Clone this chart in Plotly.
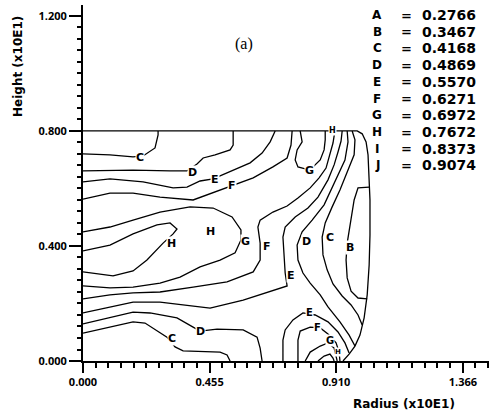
import plotly.graph_objects as go

# ---- axis ticks ----
x_tickvals = [0.0, 0.455, 0.910, 1.366]
x_ticktext = ["0.000", "0.455", "0.910", "1.366"]
y_tickvals = [0.0, 0.4, 0.8, 1.2]
y_ticktext = ["0.000", "0.400", "0.800", "1.200"]
x_minor_step = 0.0455
y_minor_step = 0.04

# ---- contour level key ----
level_letters = ["A", "B", "C", "D", "E", "F", "G", "H", "I", "J"]
level_values = ["0.2766", "0.3467", "0.4168", "0.4869", "0.5570",
                "0.6271", "0.6972", "0.7672", "0.8373", "0.9074"]

# ---- contour lines (Radius, Height in x10E1) ----
boundary_r = [0, 0.986, 1.004, 1.018, 1.025, 1.029, 1.032, 1.032, 1.029, 1.022, 1.011, 0.996, 0.978, 0.957, 0.935]
boundary_z = [0.800, 0.800, 0.790, 0.762, 0.717, 0.647, 0.560, 0.438, 0.334, 0.230, 0.150, 0.090, 0.052, 0.024, 0]

c_top_r = [0, 0.097, 0.180, 0.216, 0.259, 0.270, 0.270]
c_top_z = [0.720, 0.717, 0.710, 0.713, 0.741, 0.786, 0.800]

d_top_r = [0, 0.180, 0.313, 0.374, 0.410, 0.432, 0.475, 0.529, 0.540, 0.540]
d_top_z = [0.661, 0.664, 0.661, 0.661, 0.685, 0.706, 0.717, 0.734, 0.751, 0.800]

e_top_r = [0, 0.097, 0.216, 0.324, 0.374, 0.421, 0.468, 0.540, 0.601, 0.644, 0.673, 0.691]
e_top_z = [0.623, 0.633, 0.623, 0.602, 0.605, 0.626, 0.633, 0.664, 0.689, 0.723, 0.762, 0.800]

f_top_r = [0, 0.097, 0.180, 0.277, 0.396, 0.475, 0.529, 0.612, 0.683, 0.734, 0.748, 0.752]
f_top_z = [0.563, 0.584, 0.584, 0.570, 0.560, 0.588, 0.609, 0.637, 0.675, 0.706, 0.751, 0.800]

g_loop_r = [0, 0.097, 0.180, 0.277, 0.385, 0.468, 0.536, 0.568, 0.568, 0.547, 0.493, 0.421, 0.349, 0.277, 0.180, 0.097, 0]
g_loop_z = [0.449, 0.466, 0.490, 0.518, 0.536, 0.532, 0.501, 0.456, 0.421, 0.376, 0.351, 0.327, 0.292, 0.271, 0.257, 0.254, 0.261]

h_loop_r = [0, 0.097, 0.180, 0.266, 0.313, 0.338, 0.324, 0.288, 0.230, 0.180, 0.108, 0]
h_loop_z = [0.383, 0.403, 0.442, 0.473, 0.480, 0.459, 0.442, 0.410, 0.351, 0.313, 0.296, 0.310]

g_cap_r = [0.781, 0.788, 0.770, 0.763, 0.773, 0.799, 0.827, 0.853, 0.867, 0.871, 0.871]
g_cap_z = [0.800, 0.762, 0.734, 0.699, 0.675, 0.668, 0.675, 0.699, 0.734, 0.769, 0.800]

f_mid_r = [0, 0.097, 0.180, 0.277, 0.396, 0.518, 0.612, 0.637, 0.637, 0.629, 0.637, 0.683, 0.734, 0.773, 0.817, 0.849, 0.874, 0.888, 0.899, 0.906]
f_mid_z = [0.216, 0.230, 0.237, 0.240, 0.257, 0.275, 0.310, 0.351, 0.410, 0.466, 0.490, 0.518, 0.539, 0.567, 0.602, 0.637, 0.671, 0.717, 0.758, 0.800]

e_mid_r = [0, 0.097, 0.180, 0.277, 0.367, 0.457, 0.576, 0.655, 0.734, 0.727, 0.723, 0.719, 0.727, 0.763, 0.809, 0.845, 0.881, 0.903, 0.917, 0.928, 0.932]
e_mid_z = [0.167, 0.188, 0.205, 0.205, 0.195, 0.184, 0.212, 0.237, 0.261, 0.306, 0.369, 0.431, 0.466, 0.501, 0.532, 0.570, 0.630, 0.682, 0.727, 0.765, 0.800]

d_right_r = [0.950, 0.953, 0.942, 0.921, 0.896, 0.867, 0.824, 0.788, 0.770, 0.773, 0.791, 0.817, 0.853, 0.881, 0.924, 0.957, 0.978]
d_right_z = [0.800, 0.762, 0.699, 0.654, 0.602, 0.543, 0.490, 0.449, 0.403, 0.351, 0.306, 0.271, 0.230, 0.188, 0.136, 0.090, 0.052]

c_right_r = [0.968, 0.978, 0.975, 0.953, 0.924, 0.896, 0.871, 0.860, 0.863, 0.878, 0.899, 0.932, 0.964, 0.989, 1.004]
c_right_z = [0.800, 0.769, 0.717, 0.664, 0.595, 0.536, 0.480, 0.431, 0.369, 0.317, 0.268, 0.226, 0.195, 0.160, 0.125]

b_loop_r = [1.029, 0.989, 0.975, 0.964, 0.950, 0.946, 0.950, 0.964, 0.989, 1.022]
b_loop_z = [0.605, 0.602, 0.560, 0.490, 0.410, 0.351, 0.289, 0.243, 0.219, 0.216]

d_low_r = [0, 0.097, 0.180, 0.241, 0.338, 0.396, 0.421, 0.482, 0.576, 0.626, 0.637, 0.644]
d_low_z = [0.129, 0.150, 0.170, 0.167, 0.150, 0.118, 0.104, 0.111, 0.108, 0.083, 0.045, 0]

c_low_r = [0, 0.097, 0.180, 0.223, 0.266, 0.302, 0.331, 0.360, 0.493, 0.518, 0.529]
c_low_z = [0.097, 0.118, 0.136, 0.132, 0.104, 0.083, 0.049, 0.035, 0.031, 0.021, 0]

e_arch_r = [0.719, 0.719, 0.727, 0.755, 0.791, 0.835, 0.881, 0.917, 0.942, 0.957]
e_arch_z = [0, 0.073, 0.108, 0.143, 0.167, 0.160, 0.136, 0.101, 0.063, 0.028]

f_arch_r = [0.773, 0.773, 0.781, 0.817, 0.853, 0.881, 0.910, 0.921, 0.924]
f_arch_z = [0, 0.073, 0.104, 0.118, 0.115, 0.094, 0.063, 0.031, 0]

g_arch_r = [0.799, 0.817, 0.853, 0.881, 0.903, 0.910, 0.914]
g_arch_z = [0, 0.031, 0.052, 0.063, 0.045, 0.021, 0]

h_arch_r = [0.845, 0.867, 0.888, 0.899, 0.903]
h_arch_z = [0, 0.017, 0.024, 0.010, 0]

# ---- contour labels ----
label_text = ["C", "D", "E", "F", "G", "H", "H", "H", "G", "F", "D", "C", "B",
              "E", "E", "F", "G", "H", "D", "C"]
label_r = [0.205, 0.392, 0.475, 0.536, 0.813, 0.896, 0.320, 0.460, 0.586, 0.662,
           0.802, 0.888, 0.960, 0.748, 0.813, 0.845, 0.888, 0.917, 0.421, 0.320]
label_z = [0.706, 0.657, 0.630, 0.612, 0.664, 0.800, 0.407, 0.449, 0.414, 0.397,
           0.417, 0.428, 0.393, 0.296, 0.167, 0.118, 0.073, 0.031, 0.104, 0.077]
label_size = [11, 11, 11, 11, 11, 8, 11, 11, 11, 11, 11, 11, 11, 11, 10, 10, 10, 7, 11, 11]

lines = [
    (boundary_r, boundary_z), (c_top_r, c_top_z), (d_top_r, d_top_z),
    (e_top_r, e_top_z), (f_top_r, f_top_z), (g_loop_r, g_loop_z),
    (h_loop_r, h_loop_z), (g_cap_r, g_cap_z), (f_mid_r, f_mid_z),
    (e_mid_r, e_mid_z), (d_right_r, d_right_z), (c_right_r, c_right_z),
    (b_loop_r, b_loop_z), (d_low_r, d_low_z), (c_low_r, c_low_z),
    (e_arch_r, e_arch_z), (f_arch_r, f_arch_z), (g_arch_r, g_arch_z),
    (h_arch_r, h_arch_z),
]

fig = go.Figure()
for r, z in lines:
    fig.add_trace(go.Scatter(x=r, y=z, mode="lines",
                             line=dict(color="black", width=1.3),
                             showlegend=False))

bold = dict(family="DejaVu Sans", color="black", weight="bold")
ann = []
for t, r, z, s in zip(label_text, label_r, label_z, label_size):
    ann.append(dict(x=r, y=z, xref="x", yref="y", text=t, showarrow=False,
                    font=dict(size=s, **bold), bgcolor="white", borderpad=0))

# key of contour levels (upper right)
for i, (L, v) in enumerate(zip(level_letters, level_values)):
    zy = 1.203 - 0.0581 * i
    ann.append(dict(x=1.058, y=zy, xref="x", yref="y", text=L, showarrow=False,
                    xanchor="center", yanchor="middle", font=dict(size=12, **bold)))
    ann.append(dict(x=1.165, y=zy, xref="x", yref="y", text="=", showarrow=False,
                    xanchor="center", yanchor="middle", font=dict(size=13, **bold)))
    ann.append(dict(x=1.421, y=zy, xref="x", yref="y", text=v, showarrow=False,
                    xanchor="right", yanchor="middle", font=dict(size=14, **bold)))

ann.append(dict(x=-0.160, y=0.826, xref="paper", yref="paper", text="Height (x10E1)",
                textangle=-90, showarrow=False, xanchor="center", yanchor="middle",
                font=dict(size=12, **bold)))
ann.append(dict(x=0.791, y=-0.121, xref="paper", yref="paper", text="Radius (x10E1)",
                showarrow=False, xanchor="center", yanchor="middle",
                font=dict(size=12, **bold)))
ann.append(dict(x=0.397, y=0.890, xref="paper", yref="paper", text="(a)",
                showarrow=False, xanchor="center", yanchor="middle",
                font=dict(size=16, family="Liberation Serif", color="black")))

fig.update_layout(
    width=489, height=418, autosize=False,
    margin=dict(l=83, r=0, t=5, b=57),
    plot_bgcolor="white", paper_bgcolor="white",
    annotations=ann,
    xaxis=dict(range=[0, 1.46], showgrid=False, zeroline=False,
               showline=True, linecolor="black", linewidth=2,
               tickmode="array", tickvals=x_tickvals,
               ticktext=["<b>" + t + "</b>" for t in x_ticktext],
               ticks="outside", ticklen=10, tickwidth=2, tickcolor="black",
               tickfont=dict(size=11, color="black"),
               minor=dict(ticks="outside", ticklen=5, tickwidth=2,
                          tickcolor="black", dtick=x_minor_step, tick0=0)),
    yaxis=dict(range=[0, 1.238], showgrid=False, zeroline=False,
               showline=True, linecolor="black", linewidth=2,
               tickmode="array", tickvals=y_tickvals,
               ticktext=["<b>" + t + "</b>" for t in y_ticktext],
               ticks="outside", ticklen=12, tickwidth=2, tickcolor="black",
               tickfont=dict(size=11, color="black"),
               minor=dict(ticks="outside", ticklen=4, tickwidth=2,
                          tickcolor="black", dtick=y_minor_step, tick0=0)),
)

fig.write_html("out.html")
